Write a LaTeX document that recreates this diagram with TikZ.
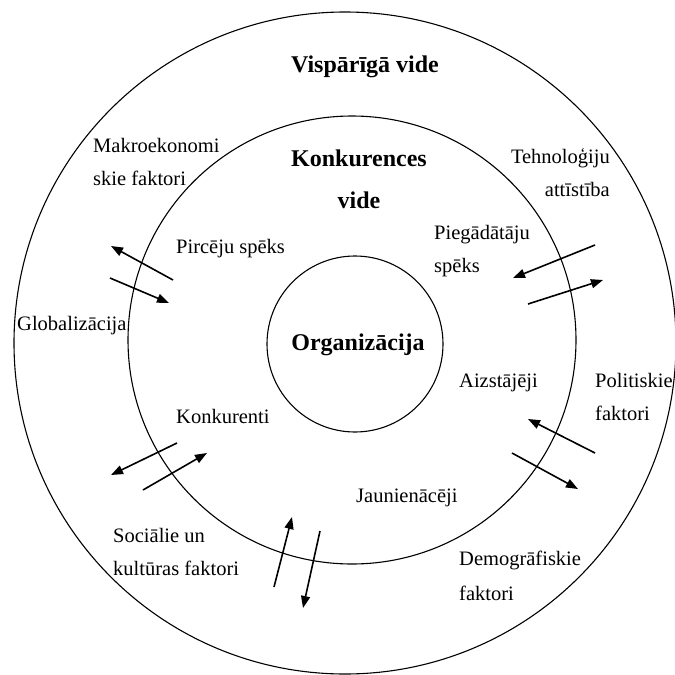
\documentclass[tikz,border=0pt]{standalone}
\usepackage{fontspec}
\setmainfont{Liberation Serif}
\usetikzlibrary{arrows.meta}
\begin{document}
\begin{tikzpicture}[x=1pt,y=-1pt,
  ring/.style={draw=black, line width=1.1pt},
  lbl/.style={inner sep=0pt, font=\fontsize{20.5pt}{33pt}\selectfont},
  hdr/.style={inner sep=0pt, font=\fontsize{24pt}{42pt}\selectfont\bfseries},
  flow/.style={line width=1.6pt, -{Triangle[length=12pt,width=9pt]}}]
\useasboundingbox (0,0) rectangle (675,675);
\begin{scope}
\clip (0,0) rectangle (675,675);
% three nested environments
\draw[ring] (345,343) circle[radius=331pt];
\draw[ring] (352,340) circle[radius=224pt];
\draw[ring] (355,344) circle[radius=88pt];
\end{scope}

% headings (multi-line nodes sit on the baseline of their last line)
\node[hdr, anchor=base] (general) at (365,72) {Vispārīgā vide};
\node[hdr, anchor=base, align=center] (compet) at (359,208) {Konkurences\\vide};
\node[hdr, anchor=base] (org) at (358,350) {Organizācija};

% general environment factors
\node[lbl, anchor=base west, align=left] (macro) at (93,185) {Makroekonomi\\skie faktori};
\node[lbl, anchor=base east, align=right] (tech) at (610,196) {Tehnoloģiju\\attīstība};
\node[lbl, anchor=base west] (glob) at (17,330) {Globalizācija};
\node[lbl, anchor=base west, align=left] (polit) at (595,420) {Politiskie\\faktori};
\node[lbl, anchor=base west, align=left] (social) at (113,575) {Sociālie un\\kultūras faktori};
\node[lbl, anchor=base west, align=left, font=\fontsize{20.5pt}{35pt}\selectfont] (demo) at (459,600) {Demogrāfiskie\\faktori};

% competitive forces
\node[lbl, anchor=base west] (buyers) at (176,253) {Pircēju spēks};
\node[lbl, anchor=base west, align=left] (suppl) at (434,272) {Piegādātāju\\spēks};
\node[lbl, anchor=base west] (subst) at (459,387) {Aizstājēji};
\node[lbl, anchor=base west] (rivals) at (176,423) {Konkurenti};
\node[lbl, anchor=base west] (entrants) at (356,502) {Jaunienācēji};

% end points of the exchange arrows
\coordinate (a1) at (173,280); \coordinate (a2) at (111,246);
\coordinate (b1) at (110,278); \coordinate (b2) at (169,303);
\coordinate (c1) at (595,245); \coordinate (c2) at (513,278);
\coordinate (d1) at (528,304); \coordinate (d2) at (603,280);
\coordinate (e1) at (595,453); \coordinate (e2) at (528,419);
\coordinate (f1) at (512,453); \coordinate (f2) at (578,489);
\coordinate (g1) at (177,443); \coordinate (g2) at (111,475);
\coordinate (h1) at (143,490); \coordinate (h2) at (207,453);
\coordinate (i1) at (274,587); \coordinate (i2) at (292,517);
\coordinate (j1) at (320,531); \coordinate (j2) at (303,608);

\foreach \p in {a,b,c,d,e,f,g,h,i,j}
  \draw[flow] (\p1) -- (\p2);
\end{tikzpicture}
\end{document}
